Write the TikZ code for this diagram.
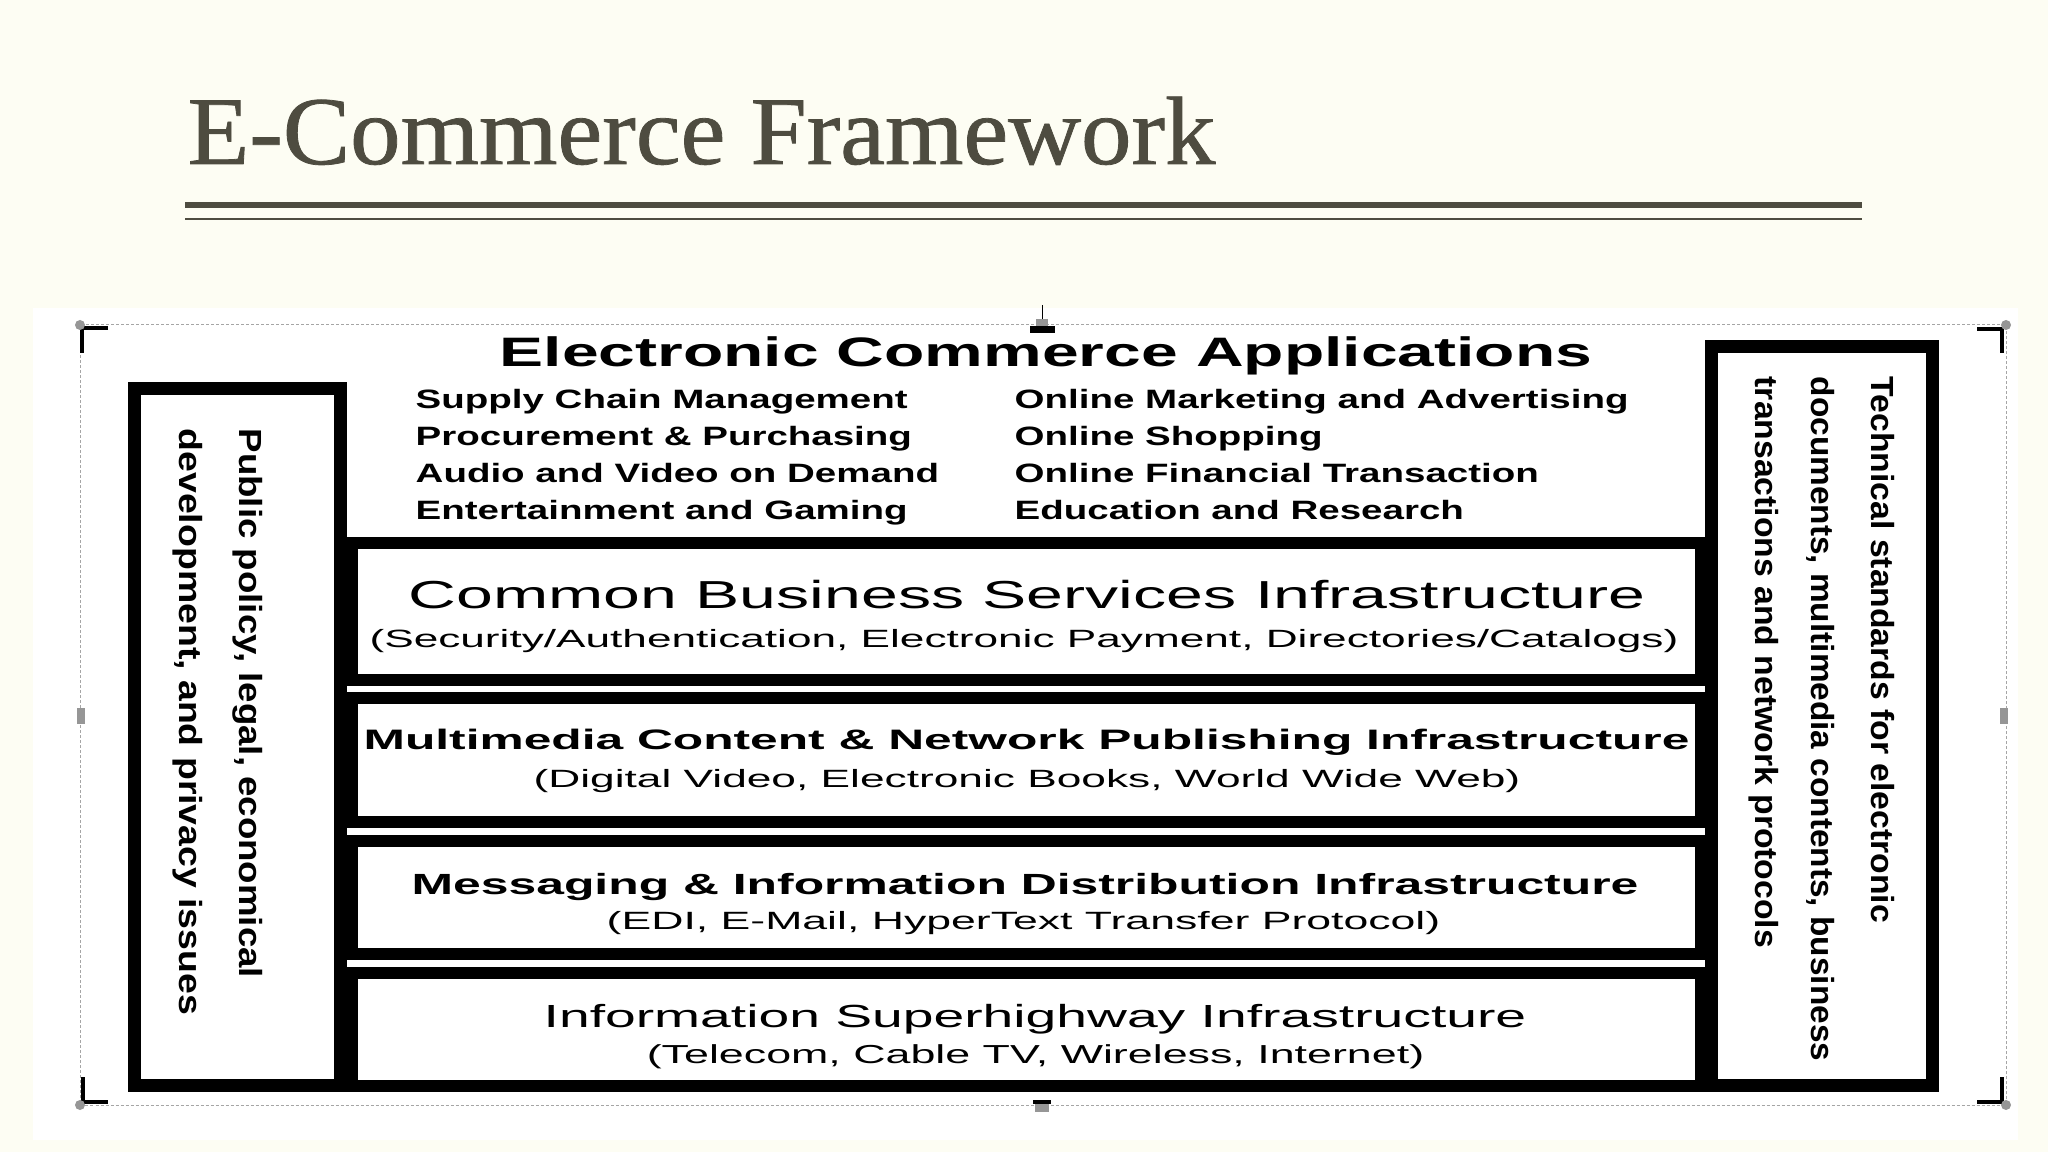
\documentclass[tikz,border=0pt]{standalone}
\usepackage{fontspec}
\usepackage{graphicx}
\setmainfont{Liberation Serif}
\setsansfont{Liberation Sans}
\newfontfamily\slidetitlefont[FakeBold=0.8]{Liberation Serif}
\usetikzlibrary{math}

\definecolor{slidecream}{RGB}{253,253,243}
\definecolor{titleink}{RGB}{78,76,64}
\definecolor{handlegray}{RGB}{150,150,150}
\definecolor{dashgray}{RGB}{165,165,165}

% stretch a text to a width, keep its height
\newcommand{\fitto}[2]{\resizebox{#1}{\height}{#2}}
\newcommand{\fz}[1]{\fontsize{#1}{#1}\selectfont}

\begin{document}
\begin{tikzpicture}[x=0.01cm, y=-0.01cm,
  layer/.style={draw=black, fill=white, line width=0.12cm, inner sep=0pt, minimum width=13.49cm},
  sidebox/.style={draw=black, fill=white, line width=0.13cm, inner sep=0pt},
  head/.style={anchor=base, inner sep=0pt},
  item/.style={anchor=base west, inner sep=0pt, font=\sffamily\bfseries\fz{7.55pt}},
  turned/.style={anchor=west, rotate=-90, inner sep=0pt, font=\sffamily\bfseries\fz{9.1pt}},
  crop/.style={line width=0.04cm}]
  \tikzmath{\rowtop = 409; \rowstep = 37; \ix = 1.45;}

  \fill[slidecream] (0,0) rectangle (2048,1152);
  \useasboundingbox (0,0) rectangle (2048,1152);

  % slide title
  \node[anchor=base west, inner sep=0pt, text=titleink, font=\slidetitlefont\fz{27.6pt}] (title) at (187,164)
    {\fitto{10.27cm}{E-Commerce Framework}};
  \fill[titleink] (185,202) rectangle (1862,208);
  \fill[titleink] (185,218) rectangle (1862,220.5);

  % picture area and its selection frame
  \fill[white] (33,308) rectangle (2018,1140);
  \draw[dashgray, line width=0.01cm, dash pattern=on 0.03cm off 0.02cm] (80,325) rectangle (2006,1105);
  \draw[crop] (108,328) -- (82,328) -- (82,353);
  \draw[crop] (1977,329) -- (2002,329) -- (2002,353);
  \draw[crop] (83,1077) -- (83,1102) -- (108,1102);
  \draw[crop] (2002,1077) -- (2002,1102) -- (1977,1102);
  \fill[handlegray] (80,325) circle (5) (2006,325) circle (5) (80,1105) circle (5) (2006,1105) circle (5);
  \fill[handlegray] (77,708) rectangle (85,724);
  \fill[handlegray] (2000,708) rectangle (2008,724);
  \draw[black, line width=0.01cm] (1042,305) -- (1042,321);
  \fill[handlegray] (1036,319) rectangle (1048,331);
  \fill[black] (1030,326) rectangle (1055,333);
  \fill[handlegray] (1035,1100) rectangle (1049,1112);
  \fill[black] (1033,1100) rectangle (1051,1104);

  % side boxes
  \node[sidebox, minimum width=2.06cm, minimum height=6.97cm] (policy) at (237.5,737) {};
  \node[sidebox, minimum width=2.21cm, minimum height=7.39cm] (standards) at (1822,716) {};

  % infrastructure layers
  \node[layer, minimum height=1.37cm] (cbs) at (1026.5,611.5) {};
  \node[layer, minimum height=1.24cm] (mmc) at (1026.5,760) {};
  \node[layer, minimum height=1.13cm] (msg) at (1026.5,897.5) {};
  \node[layer, minimum height=1.13cm] (ish) at (1026.5,1029.5) {};

  % applications
  \node[head, font=\sffamily\bfseries\fz{11.7pt}] (eca) at (1046,367)
    {\fitto{10.92cm}{Electronic Commerce Applications}};
  \foreach \txt [count=\k] in {Supply Chain Management, Procurement \& Purchasing,
      Audio and Video on Demand, Entertainment and Gaming}
    \node[item] (app-l\k) at (415,\rowtop+\rowstep*\k-\rowstep) {\scalebox{\ix}[1]{\txt}};
  \foreach \txt [count=\k] in {Online Marketing and Advertising, Online Shopping,
      Online Financial Transaction, Education and Research}
    \node[item] (app-r\k) at (1014,\rowtop+\rowstep*\k-\rowstep) {\scalebox{\ix}[1]{\txt}};

  % layer texts
  \node[head, font=\sffamily\fz{11.1pt}] (cbs-name) at (1027,609)
    {\fitto{12.36cm}{Common Business Services Infrastructure}};
  \node[head, font=\sffamily\fz{7.1pt}] (cbs-list) at (1024,648)
    {\fitto{13.08cm}{(Security/Authentication, Electronic Payment, Directories/Catalogs)}};

  \node[head, font=\sffamily\bfseries\fz{8pt}] (mmc-name) at (1026.5,749)
    {\fitto{13.25cm}{Multimedia Content \& Network Publishing Infrastructure}};
  \node[head, font=\sffamily\fz{7.1pt}] (mmc-list) at (1027,787)
    {\fitto{9.86cm}{(Digital Video, Electronic Books, World Wide Web)}};

  \node[head, font=\sffamily\bfseries\fz{8.3pt}] (msg-name) at (1025,894)
    {\fitto{12.26cm}{Messaging \& Information Distribution Infrastructure}};
  \node[head, font=\sffamily\fz{7.1pt}] (msg-list) at (1023.5,929)
    {\fitto{8.33cm}{(EDI, E-Mail, HyperText Transfer Protocol)}};

  \node[head, font=\sffamily\fz{9.1pt}] (ish-name) at (1035,1027)
    {\fitto{9.82cm}{Information Superhighway Infrastructure}};
  \node[head, font=\sffamily\fz{7.4pt}] (ish-list) at (1035.5,1063)
    {\fitto{7.77cm}{(Telecom, Cable TV, Wireless, Internet)}};

  % turned texts in the side boxes
  \node[turned] (policy-a) at (248,428) {\fitto{5.49cm}{Public policy, legal, economical}};
  \node[turned] (policy-b) at (188,428) {\fitto{5.86cm}{development, and privacy issues}};
  \node[turned] (std-a) at (1883,376) {\fitto{5.46cm}{Technical standards for electronic}};
  \node[turned] (std-b) at (1821,376) {\fitto{6.84cm}{documents, multimedia contents, business}};
  \node[turned] (std-c) at (1764,376) {\fitto{5.71cm}{transactions and network protocols}};

\end{tikzpicture}
\end{document}
